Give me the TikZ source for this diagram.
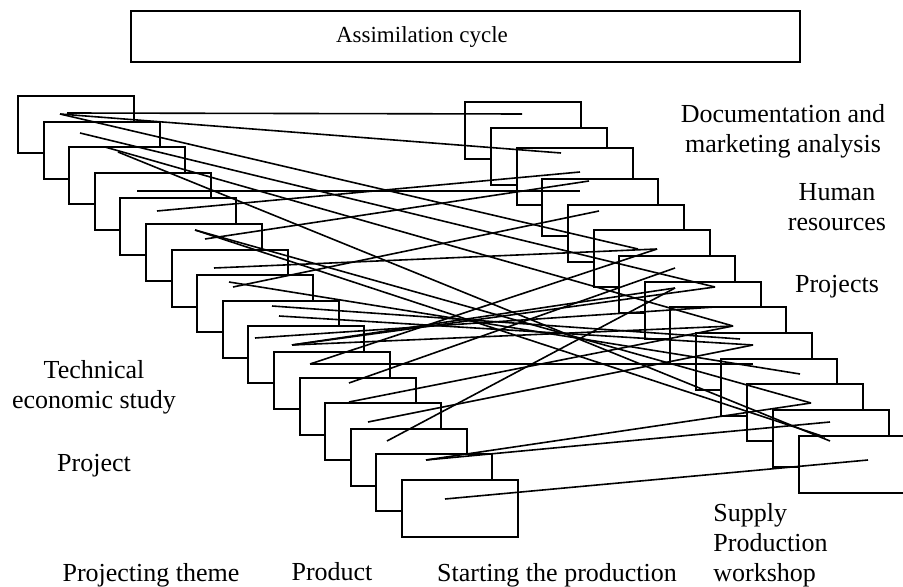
\documentclass[tikz,border=0pt]{standalone}
\usepackage{fontspec}
\setmainfont{Liberation Serif}
\tikzset{
    every node/.style={font=\fontsize{13pt}{15pt}\selectfont},
    stackbox/.style={draw,fill=white,line width=1pt,anchor=north west,minimum width=58pt,minimum height=28.5pt,inner sep=0pt},
    titlebox/.style={draw,line width=1pt,minimum width=334.5pt,minimum height=25.5pt,inner sep=0pt},
    caption/.style={align=center,inner sep=0pt},
    link/.style={line width=0.8pt}
}
\begin{document}
\begin{tikzpicture}[x=0.5pt,y=-0.5pt]
\clip (0,0) rectangle (903,587);
\node[titlebox] (cycle) at (465.5,36.5) {};
\node[caption,font=\fontsize{11.5pt}{13pt}\selectfont] (cycletitle) at (422,37) {Assimilation cycle};
\foreach \i in {1,...,16}
    \node[stackbox] (lb\i) at ({17+round(25.6*(\i-1))},{95+round(25.6*(\i-1))}) {};
\foreach \x/\y [count=\i] in {464/101,490/127,516/147,541/178,567/204,593/229,618/255,644/281,669/306,695/332,720/358,746/383,772/409,798/435}
    \node[stackbox] (rb\i) at (\x,\y) {};
\foreach \n/\x/\y in {s1/60/114,s2/67/113,s3/80/133,s4/105/147,s5/118/152,s6/137/191,s7/157/211,s8/195/230,s9/205/239,s10/214/268,s11/229/282,s12/233/287,s13/272/306,s14/279/316,s15/255/338,s16/292/345,s17/310/364,s18/349/383,s19/349/402,s20/368/422,s21/387/441,s22/426/460,s23/445/499}
    \coordinate (\n) at (\x,\y);
\foreach \n/\x/\y in {e1/522/114,e2/561/153,e3/580/172,e4/589/181,e5/580/191,e6/599/211,e7/638/249,e8/657/249,e9/675/268,e10/715/287,e11/675/288,e12/715/307,e13/733/326,e14/740/339,e15/753/345,e16/753/364,e17/800/374,e18/811/403,e19/830/422,e20/825/437,e21/830/441,e22/868/460}
    \coordinate (\n) at (\x,\y);
\foreach \a/\b in {s2/e1,s1/e2,s1/e7,s3/e10,s4/e13,s5/e21,s6/e5,s7/e3,s8/e18,s8/e20,s9/e4,s10/e8,s11/e17,s12/e6,s13/e14,s14/e15,s15/e12,s16/e11,s16/e10,s16/e13,s17/e8,s17/e16,s18/e9,s19/e13,s20/e15,s21/e11,s22/e18,s22/e19,s23/e22}
    \draw[link] (\a) -- (\b);
\node[caption] (docmarket) at (783,131.5) {Documentation and\\marketing analysis};
\node[caption] (humanres) at (837,207.5) {Human\\resources};
\node[caption] (projects) at (837,287) {Projects};
\node[caption] (techstudy) at (94,387) {Technical\\economic study};
\node[caption] (project) at (94,466) {Project};
\node[caption] (theme) at (151,575) {Projecting theme};
\node[caption] (product) at (332,572) {Product};
\node[caption] (startprod) at (557,575) {Starting the production};
\node[caption,align=left,anchor=west] (supplyws) at (713,545.5) {Supply\\Production\\workshop};
\end{tikzpicture}
\end{document}
